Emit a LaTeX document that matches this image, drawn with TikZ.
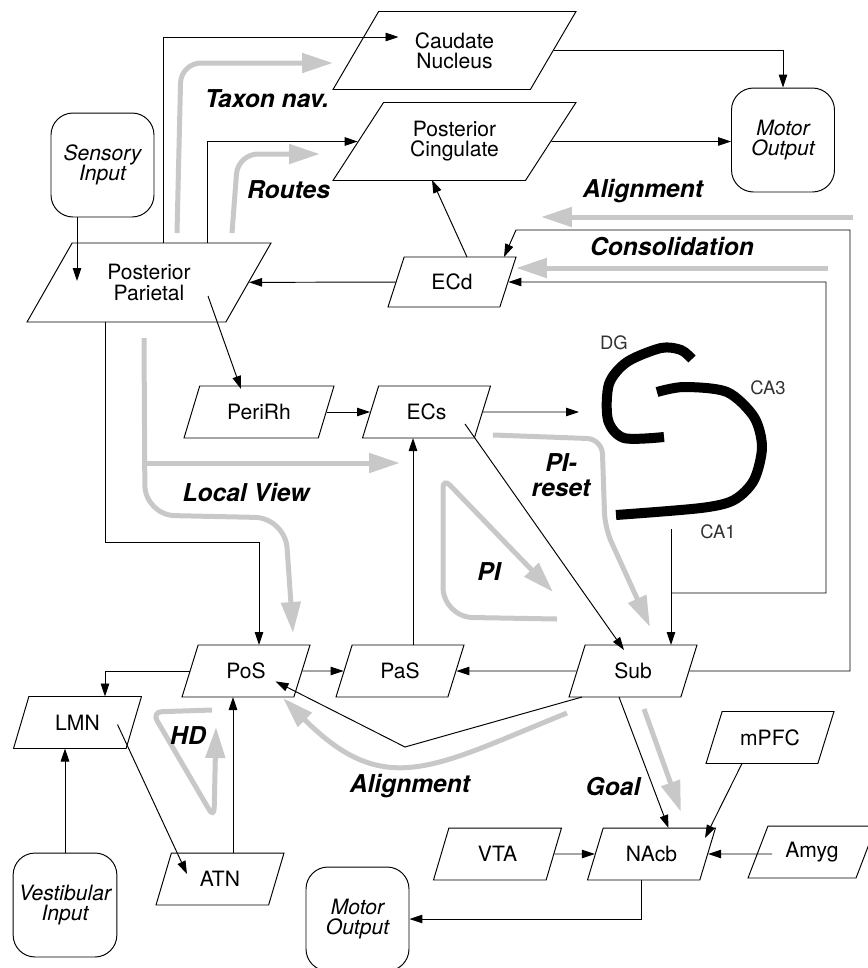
\documentclass[tikz,border=0pt]{standalone}
\usepackage{fontspec}
\setmainfont{TeX Gyre Heros}
\usetikzlibrary{arrows.meta,calc,shapes.geometric}
\definecolor{flowGray}{HTML}{C8C8C8}
\definecolor{thin}{HTML}{333333}

\begin{document}
\begin{tikzpicture}[x=0.02cm, y=-0.02cm, line width=0.55pt,
  >={Triangle[length=2.6mm, width=1.7mm]},
  area/.style={draw, trapezium, trapezium left angle=45, trapezium right angle=135,
    trapezium stretches body, inner sep=0pt, minimum width=2.56cm, minimum height=1.04cm,
    align=center, font=\fontsize{12}{11.5}\selectfont},
  bigarea/.style={area, trapezium left angle=38.5, trapezium right angle=141.5,
    minimum width=4.86cm, minimum height=1.56cm},
  io/.style={draw, rounded corners=0.44cm, minimum width=2.06cm, minimum height=2.08cm,
    align=center, font=\fontsize{12}{11.5}\selectfont\itshape},
  flow/.style={line width=0.1cm, color=flowGray, rounded corners=0.4cm,
    -{Triangle[length=0.62cm, width=0.38cm]}},
  flowtag/.style={align=center, font=\fontsize{14}{14}\selectfont\bfseries\itshape},
  celltag/.style={font=\fontsize{10.5}{10.5}\selectfont, color=thin},
  cell/.style={line width=0.2cm}]
\useasboundingbox (0,0) rectangle (868,968);

\node[bigarea] (caud) at (454.5,50.5) {Caudate\\Nucleus};
\node[bigarea] (pcing) at (454.5,141.5) {Posterior\\Cingulate};
\node[bigarea, minimum width=4.88cm, minimum height=1.58cm] (ppar) at (149,282.5) {Posterior\\Parietal};
\node[area, minimum height=1.0cm] (ecd) at (452,282) {ECd};
\node[area, minimum width=3cm] (perirh) at (259,412) {PeriRh};
\node[area] (ecs) at (426.5,412) {ECs};
\node[area] (pos) at (246,671) {PoS};
\node[area] (pas) at (400,671) {PaS};
\node[area] (sub) at (633,671) {Sub};
\node[area] (lmn) at (77.5,722.5) {LMN};
\node[area] (atn) at (220,879) {ATN};
\node[area] (mpfc) at (770,737.5) {mPFC};
\node[area] (nacb) at (651.5,854) {NAcb};
\node[area] (vta) at (497.5,854) {VTA};
\node[area] (amyg) at (812,852) {Amyg};
\node[io] (sens) at (102.5,165) {Sensory\\Input};
\node[io] (motA) at (783,140) {Motor\\Output};
\node[io] (vest) at (65,905) {Vestibular\\Input};
\node[io] (motB) at (357.5,919) {Motor\\Output};

\draw[flow] (177,233) -- (181,63) -- (333,63);
\draw[flow] (232,233) -- (238,154) -- (320,154);
\draw[flow] (853,217) -- (541,217);
\draw[flow] (828,268) -- (516,268);
\draw[flow, rounded corners=0.6cm] (144,338) -- (145,515) -- (285,518) -- (293,633);
\draw[flow] (145,463) -- (400,463);
\draw[flow, rounded corners=0.3cm] (493,435) -- (602,439) -- (605,528) -- (650,627);
\draw[flow] (557,619) [rounded corners=0.6cm] -- (443,617) [rounded corners=0.2cm] -- (443,478) -- (553,592);
\draw[flow, rounded corners=0.2cm] (212,710) -- (152,712) -- (214,818) -- (216,727);
\draw[flow] (567,713) to[out=202, in=-45, looseness=1.3] (283,698);
\draw[flow] (644,709) -- (681,812);

\draw[cell] plot[smooth] coordinates {(664,437) (624,438) (608,420) (609,384) (627,362) (661,348) (681,350) (692,359)};
\draw[cell] plot[smooth] coordinates {(657,392) (684,387) (727,392) (754,417) (762,447) (754,480) (734,500) (701,508) (616,515)};
\coordinate (ca1out) at (671,529);
\coordinate (dgin) at (579,412);

\draw[->] ($(ppar)+(14,-39.5)$) |- ($(caud)+(-56,-13.5)$);
\draw[->] ($(ppar)+(58,-39.5)$) |- (pcing);
\draw[->] ($(sens.south)+(-25.5,0)$) -- ($(ppar)+(-72,-1.5)$);
\draw[->] (caud) -| (motA);
\draw[->] (pcing) -- (pcing -| motA.west);
\draw[->] ($(ecd)+(15,-25)$) -- ($(pcing)+(-22.5,38.5)$);
\draw[->] (ecd) -- (ppar);
\draw[->] (sub) -| (850,230) -- (516,230) -- ($(ecd)+(52,-25)$);
\draw[->] (ca1out) -- ($(sub)+(38,-26)$);
\draw[->] ($(ca1out)+(0,64)$) -| (826,282) -- (ecd);
\draw[->] ($(ppar)+(-44,39.5)$) |- (259,542) -- ($(pos)+(13,-26)$);
\draw[->] ($(ppar)+(59,13.5)$) -- ($(perirh)+(-18,-23)$);
\draw[->] (perirh) -- (ecs);
\draw[->] (ecs) -- (dgin);
\draw[->] ($(ecs)+(38.5,12)$) -- ($(sub)+(-9,-21)$);
\draw[->] ($(pas)+(13,-26)$) -- ($(ecs)+(-13.5,26)$);
\draw[->] (pos) -- (pas);
\draw[->] (sub) -- (pas);
\draw[->] (pos) -| ($(lmn)+(27.5,-26)$);
\draw[->] ($(sub)+(-51,26)$) -- (405,747) -- ($(pos)+(29.6,10.4)$);
\draw[->] (vest.north) -- ($(lmn)+(-12.5,26)$);
\draw[->] ($(lmn)+(40,2)$) -- ($(atn)+(-33,-5)$);
\draw[->] ($(atn)+(13,-26)$) -- ($(pos)+(-13,26)$);
\draw[->] ($(sub)+(-14,26)$) -- ($(nacb)+(17,-26)$);
\draw[->] ($(mpfc)+(-28,26)$) -- ($(nacb)+(53.5,-16)$);
\draw[->] (vta) -- (nacb);
\draw[->] ($(amyg)+(-40,2)$) -- (nacb);
\draw[->] ($(nacb)+(-10.5,26)$) |- (motB);

\node[flowtag] (taxon) at (267,99) {Taxon nav.};
\node[flowtag] (routes) at (288.5,190) {Routes};
\node[flowtag] (alignA) at (643,191) {Alignment};
\node[flowtag] (consol) at (672,247) {Consolidation};
\node[flowtag] (local) at (246,492) {Local View};
\node[flowtag] (pireset) at (561,475) {PI-\\reset};
\node[flowtag] (pi) at (489,572) {PI};
\node[flowtag] (hd) at (188,736) {HD};
\node[flowtag] (alignB) at (410,786) {Alignment};
\node[flowtag] (goal) at (613,787) {Goal};
\node[celltag] (dg) at (614,343) {DG};
\node[celltag] (ca3) at (768,388) {CA3};
\node[celltag] (ca1) at (718,532) {CA1};
\end{tikzpicture}
\end{document}
